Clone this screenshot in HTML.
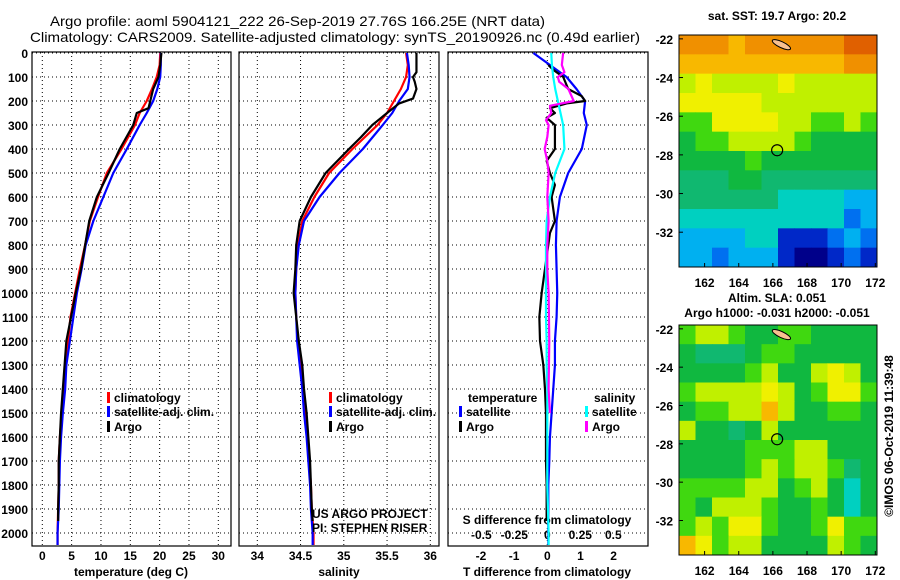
<!DOCTYPE html>
<html><head><meta charset="utf-8"><style>
body{margin:0;background:#fff;}
svg{display:block;font-family:"Liberation Sans",sans-serif;}
.tk{font-size:12px;font-weight:bold;fill:#000;}
.lg{font-size:12px;font-weight:bold;fill:#000;}
</style></head><body>
<svg id="c" width="900" height="580" viewBox="0 0 900 580" xmlns="http://www.w3.org/2000/svg">
<text x="50" y="26" font-size="14" textLength="495" lengthAdjust="spacingAndGlyphs">Argo profile: aoml 5904121_222 26-Sep-2019 27.76S 166.25E (NRT data)</text>
<text x="30" y="42" font-size="14" textLength="610" lengthAdjust="spacingAndGlyphs">Climatology: CARS2009. Satellite-adjusted climatology: synTS_20190926.nc (0.49d earlier)</text>
<g id="g"></g>
</svg>
<script>
// ---- data ----
const depths = [0,50,100,150,200,250,300,400,500,600,700,800,900,1000,1100,1200,1300,1400,1500,1600,1700,1800,1900,2000,2050];
const tempClim = [20.1,20.0,19.5,18.7,17.8,16.6,15.8,13.5,11.0,9.5,8.1,7.3,6.4,5.6,4.8,4.4,3.9,3.6,3.3,3.0,2.8,2.8,2.7,2.6,2.6];
const tempSat  = [20.2,20.2,20.1,19.6,18.9,17.8,16.6,14.4,12.1,10.4,8.7,7.4,6.7,5.9,5.3,4.7,4.1,3.9,3.5,3.2,3.0,2.9,2.8,2.6,2.6];
const argoDepths = [0,50,100,150,200,230,250,300,400,500,600,700,800,900,1000,1100,1200,1300,1400,1500,1600,1700,1800,1900,1950];
const tempArgo = [20.3,20.1,19.8,18.9,18.4,18.1,16.1,15.5,13.2,11.3,9.3,8.0,7.3,6.6,5.7,4.9,4.1,3.8,3.5,3.2,3.0,2.8,2.8,2.7,2.7];
const salClim = [35.72,35.74,35.72,35.66,35.58,35.50,35.39,35.10,34.83,34.66,34.52,34.47,34.45,34.44,34.45,34.47,34.50,34.53,34.55,34.58,34.60,34.62,34.63,34.65,34.65];
const salSat  = [35.73,35.75,35.76,35.74,35.64,35.56,35.45,35.22,34.95,34.72,34.54,34.48,34.45,34.44,34.45,34.46,34.49,34.52,34.54,34.57,34.59,34.61,34.62,34.64,34.64];
const argoSalDepths = [0,80,100,120,150,190,210,250,300,350,400,500,600,700,800,900,1000,1100,1200,1300,1400,1500,1600,1700,1800,1900,1950];
const salArgo = [35.84,35.84,35.80,35.82,35.84,35.80,35.64,35.50,35.33,35.20,35.06,34.79,34.62,34.49,34.45,34.44,34.42,34.45,34.48,34.52,34.54,34.57,34.59,34.61,34.62,34.63,34.64];
const tdiffSat = [-0.42,0.08,0.58,0.88,1.14,1.10,1.19,1.04,0.63,0.38,0.28,0.26,0.28,0.30,0.28,0.23,0.23,0.18,0.13,0.08,0.06,0.03,0.03,0.03,0.03];
const tdiffArgoDepths = [50,70,100,150,180,200,210,230,250,270,300,400,450,500,550,600,700,750,800,900,1000,1100,1200,1300,1400,1500,1600,1700,1800,1900,1950];
const tdiffArgo = [0.03,0.18,0.48,0.63,1.04,1.14,0.58,0.08,0.23,-0.02,0.23,0.23,-0.02,0.08,0.23,0.13,0.23,0.08,0.03,-0.07,-0.17,-0.24,-0.22,-0.12,-0.07,-0.04,-0.04,-0.04,-0.02,-0.02,-0.02];
const sdiffSat = [0.03,0.035,0.045,0.06,0.08,0.10,0.12,0.13,0.06,0.02,-0.005,-0.01,-0.01,-0.01,-0.01,-0.005,-0.005,0,0,0,0,0,0.005,0.01,0.01];
const sdiffArgoDepths = [0,50,80,100,120,150,200,220,250,280,300,350,400,450,500,600,700,800,900,1000,1200,1400,1500];
const sdiffArgo = [0.12,0.11,0.13,0.08,0.09,0.16,0.20,0.02,0.03,-0.01,0.01,0,-0.02,0,0.01,0,0.01,0,0,0.01,0.015,0.01,0.02];
const depthTicks = [0,100,200,300,400,500,600,700,800,900,1000,1100,1200,1300,1400,1500,1600,1700,1800,1900,2000];
const tempTicks = [0,5,10,15,20,25,30];
const salTicks = [34,34.5,35,35.5,36];
const tdiffTicks = [-2,-1,0,1,2];
const sdiffTicks = [-0.5,-0.25,0,0.25,0.5];
const lonTicks = [162,164,166,168,170,172];
const latTicks = [-22,-24,-26,-28,-30,-32];
const argoLon = 166.25, argoLat = -27.76;
const sstGrid = [
[11,11,11,10,11,11,11,11,11,11,12,12],
[10,10,10,10,10,10,10,10,10,10,11,11],
[8,9,8,8,8,8,9,8,8,8,8,8],
[9,9,9,9,9,8,8,8,8,8,8,8],
[7,7,9,9,9,9,8,8,7,7,8,7],
[6,7,7,8,8,8,8,7,6,6,6,6],
[6,6,6,6,7,6,6,6,6,6,6,6],
[5,5,5,6,6,5,5,5,5,5,5,5],
[5,5,5,5,5,5,4,4,4,4,3,3],
[4,4,4,4,4,4,4,4,4,4,2,3],
[3,3,3,3,4,4,1,1,1,2,3,2],
[3,3,2,3,3,3,1,0,0,1,2,1]];
const slaGrid = [
[7,8,8,7,6,6,7,7,6,6,6,6],
[6,5,5,5,6,7,7,6,6,6,6,6],
[6,6,6,6,7,8,6,6,8,9,8,6],
[7,8,8,8,8,9,8,6,7,9,9,7],
[6,7,7,8,8,10,8,6,6,7,7,6],
[8,6,6,5,6,8,6,6,6,6,6,6],
[6,6,6,6,7,7,7,8,8,6,6,6],
[6,6,6,6,7,8,7,8,8,7,5,6],
[7,7,7,7,8,8,6,7,8,6,4,6],
[7,6,8,8,8,7,6,6,7,6,4,6],
[7,8,7,9,9,7,6,6,7,9,7,7],
[10,9,7,8,8,6,6,6,6,8,7,6]];
const palette = ["#00008a","#0028c8","#0070f0","#00b0f0","#00d0c0","#10b870","#10b840","#40d810","#c0f000","#f0f000","#f8b800","#f09000","#e06000"];

// ---- axes ----
const NS="http://www.w3.org/2000/svg", G=document.getElementById('g');
function mk(t,a,p){const e=document.createElementNS(NS,t);for(const k in a)e.setAttribute(k,a[k]);(p||G).appendChild(e);return e;}
const yD = d => 53 + d*0.24;
const xT = v => 42.3 + v*5.867;
const xS = v => 257.3 + (v-34)*86.5;
const xTD = v => 547.3 + v*33.17;
const xSD = v => 547.3 + v*132;
const Y0=52, Y1=546;
function frame(x0,x1,name){
  const r=mk('rect',{x:x0,y:Y0,width:x1-x0,height:Y1-Y0,fill:'none',stroke:'#000','stroke-width':1.2});
  
  
  depthTicks.forEach(d=>{const l=mk('line',{x1:x0,x2:x1,y1:yD(d),y2:yD(d),stroke:'#000','stroke-width':1,'stroke-dasharray':'1,3'});
    
    });
}
function vgrid(ticks,fx,name){ticks.forEach(v=>{const l=mk('line',{x1:fx(v),x2:fx(v),y1:Y0,y2:Y1,stroke:'#000','stroke-width':1,'stroke-dasharray':'1,3'});
  
  });}
function line(ds,vs,fx,col,name){
  const p=mk('polyline',{points:ds.map((d,i)=>fx(vs[i])+','+yD(d)).join(' '),fill:'none',stroke:col,'stroke-width':2.2,'stroke-linejoin':'round'});
  
  
}
function txt(x,y,s,name,anchor,cls){const t=mk('text',{x:x,y:y,'text-anchor':anchor||'start',class:cls||'tk'});t.textContent=s;
  
  return t;}

frame(32,231,'temperature-panel-frame'); vgrid(tempTicks,xT,'temperature-gridline');
frame(239,439,'salinity-panel-frame'); vgrid(salTicks,xS,'salinity-gridline');
frame(448,648,'difference-panel-frame'); vgrid([0],xTD,'difference-zero-gridline');
depthTicks.forEach(d=>txt(28,yD(d)+5,String(d),'depth-tick-label','end'));
tempTicks.forEach(v=>txt(xT(v),560,String(v),'temperature-tick-label','middle'));
salTicks.forEach(v=>txt(xS(v),560,String(v),'salinity-tick-label','middle'));
tdiffTicks.forEach(v=>txt(xTD(v),560,String(v),'tdiff-tick-label','middle'));
sdiffTicks.forEach(v=>txt(xSD(v),539,String(v),'sdiff-tick-label','middle'));
txt(131,576,'temperature (deg C)','temperature-axis-title','middle');
txt(339,576,'salinity','salinity-axis-title','middle');
txt(547,576,'T difference from climatology','tdiff-axis-title','middle');
txt(547,524,'S difference from climatology','sdiff-axis-title','middle');

line(depths,tempClim,xT,'#f00','temperature-climatology-line');
line(depths,tempSat,xT,'#00f','temperature-satellite-line');
line(argoDepths,tempArgo,xT,'#000','temperature-argo-line');
line(depths,salClim,xS,'#f00','salinity-climatology-line');
line(depths,salSat,xS,'#00f','salinity-satellite-line');
line(argoSalDepths,salArgo,xS,'#000','salinity-argo-line');
line(depths,tdiffSat,xTD,'#00f','tdiff-satellite-line');
line(tdiffArgoDepths,tdiffArgo,xTD,'#000','tdiff-argo-line');
line(depths,sdiffSat,xSD,'#00ffff','sdiff-satellite-line');
line(sdiffArgoDepths,sdiffArgo,xSD,'#ff00ff','sdiff-argo-line');

function leg(x,y,col,s,name){const r=mk('rect',{x:x,y:y-10,width:3,height:11,fill:col});
  
  
  txt(x+7,y,s,name);}
leg(107,402,'#f00','climatology','legend-climatology');
leg(107,416,'#00f','satellite-adj. clim.','legend-satellite');
leg(107,431,'#000','Argo','legend-argo');
leg(329,402,'#f00','climatology','legend-sal-climatology');
leg(329,416,'#00f','satellite-adj. clim.','legend-sal-satellite');
leg(329,431,'#000','Argo','legend-sal-argo');
txt(468,402,'temperature','legend-temperature-heading');
leg(459,416,'#00f','satellite','legend-tdiff-satellite');
leg(459,431,'#000','Argo','legend-tdiff-argo');
txt(594,402,'salinity','legend-salinity-heading');
leg(585,416,'#00ffff','satellite','legend-sdiff-satellite');
leg(585,431,'#ff00ff','Argo','legend-sdiff-argo');
txt(312,518,'US ARGO PROJECT','credit-project','start','lg').setAttribute('font-weight','normal');
txt(312,532,'PI: STEPHEN RISER','credit-pi','start','lg').setAttribute('font-weight','normal');

// ---- maps ----
const LON0=160.5, LON1=172.1, LAT0=-21.8, LAT1=-33.8;
function drawMap(top,bot,grid,name){
  const xL=lon=>679+(lon-LON0)/(LON1-LON0)*198;
  const yL=lat=>top+(lat-LAT0)/(LAT1-LAT0)*(bot-top);
  const rows=grid.length, cols=grid[0].length, cw=198/cols, ch=(bot-top)/rows;
  grid.forEach((row,i)=>row.forEach((v,j)=>{const c=mk('rect',{x:679+j*cw,y:top+i*ch,width:cw+0.5,height:ch+0.5,fill:palette[v]});
    
    }));
  const land=mk('ellipse',{cx:xL(166.5),cy:yL(-22.3),rx:10,ry:3,fill:'#f8c090',stroke:'#000','stroke-width':1,transform:'rotate(25 '+xL(166.5)+' '+yL(-22.3)+')'});
  
  
  const f=mk('rect',{x:679,y:top,width:198,height:bot-top,fill:'none',stroke:'#000','stroke-width':1});
  
  
  const ci=mk('circle',{cx:xL(argoLon),cy:yL(argoLat),r:5.5,fill:'none',stroke:'#000','stroke-width':1.2});
  
  
  latTicks.forEach(l=>{txt(673,yL(l)+5,String(l),name+'-lat-label','end');
    const t=mk('line',{x1:679,x2:683,y1:yL(l),y2:yL(l),stroke:'#000'});
    
    });
  lonTicks.forEach(l=>{txt(xL(l),bot+20,String(l),name+'-lon-label','middle');
    const t=mk('line',{x1:xL(l),x2:xL(l),y1:bot,y2:bot-4,stroke:'#000'});
    
    });
}
drawMap(35,267,sstGrid,'sst-map');
drawMap(325,555,slaGrid,'sla-map');
txt(777,20,'sat. SST: 19.7 Argo: 20.2','sst-map-title','middle');
txt(777,302,'Altim. SLA: 0.051','sla-map-title','middle');
txt(777,317,'Argo h1000: -0.031 h2000: -0.051','sla-map-subtitle','middle');
const cr=txt(0,0,'©IMOS 06-Oct-2019 11:39:48','imos-credit','middle');
cr.setAttribute('transform','translate(893,436) rotate(-90)');
cr.setAttribute('font-weight','normal');
</script>
</body></html>
